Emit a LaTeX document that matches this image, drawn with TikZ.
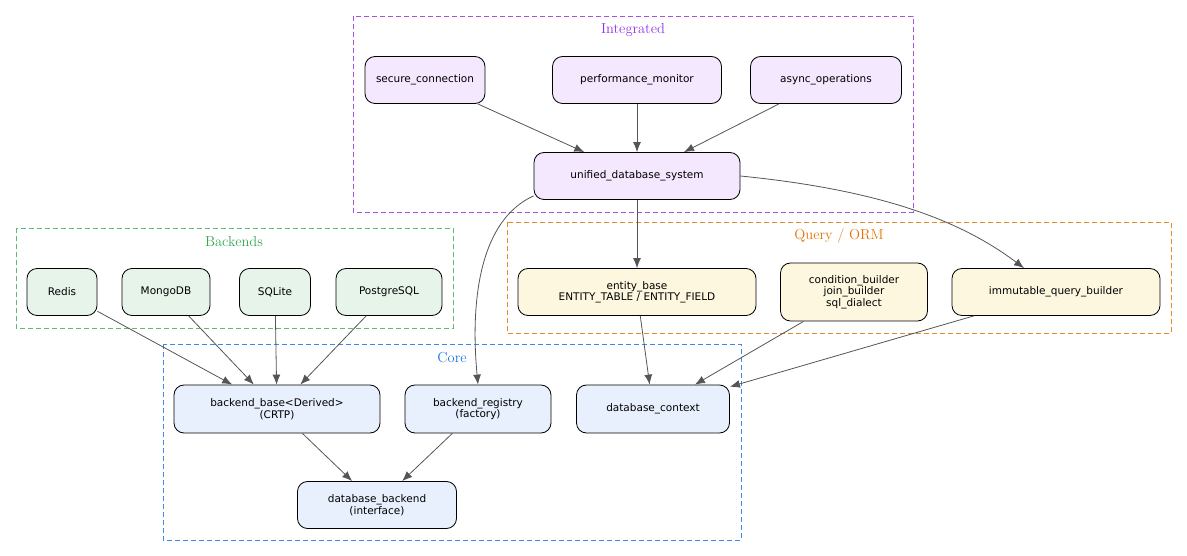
\documentclass[tikz,border=0pt]{standalone}
\usepackage{fontspec}
\newfontfamily\nodefont{DejaVu Sans}
\usetikzlibrary{arrows.meta,positioning}
\definecolor{purpfill}{HTML}{F3E8FD}
\definecolor{greenfill}{HTML}{E6F4EA}
\definecolor{yelfill}{HTML}{FEF7E0}
\definecolor{bluefill}{HTML}{E8F0FE}
\definecolor{purpline}{HTML}{9334E6}
\definecolor{greenline}{HTML}{34A853}
\definecolor{orangeline}{HTML}{E37400}
\definecolor{blueline}{HTML}{1A73E8}
\definecolor{edgegray}{HTML}{555555}
\tikzset{
  box/.style={draw=black, line width=0.8pt, rounded corners=10pt, minimum height=47pt, align=center,
    font=\nodefont\fontsize{10.5}{11.5}\selectfont, inner sep=2pt},
  cluster/.style={draw, line width=0.8pt, dash pattern=on 5pt off 3pt},
  ctitle/.style={font=\fontsize{14.5}{15}\selectfont},
  link/.style={draw=edgegray, line width=0.8pt, -{Latex[length=10pt,width=8pt]}},
}
\begin{document}
\begin{tikzpicture}[x=1pt,y=-1pt]
\useasboundingbox (0,0) rectangle (1187,556);

% clusters
\draw[cluster,purpline!85] (353,16) rectangle (913,212);
\node[ctitle,text=purpline] at (633,30) {Integrated};
\draw[cluster,greenline!80] (16,228) rectangle (453,328);
\node[ctitle,text=greenline] at (234,242) {Backends};
\draw[cluster,orangeline!85] (507,222) rectangle (1171,333);
\node[ctitle,text=orangeline] at (839,236) {Query / ORM};
\draw[cluster,blueline!85] (163,344) rectangle (741,540);
\node[ctitle,text=blueline] at (452,358) {Core};

% integrated
\node[box,fill=purpfill,minimum width=120pt] (secure) at (425,80) {secure\_connection};
\node[box,fill=purpfill,minimum width=169pt] (perf) at (637,80) {performance\_monitor};
\node[box,fill=purpfill,minimum width=151pt] (async) at (826,80) {async\_operations};
\node[box,fill=purpfill,minimum width=206pt] (unified) at (637,176) {unified\_database\_system};

% backends
\node[box,fill=greenfill,minimum width=70pt] (redis) at (62,292) {Redis};
\node[box,fill=greenfill,minimum width=88pt] (mongo) at (166,292) {MongoDB};
\node[box,fill=greenfill,minimum width=71pt] (sqlite) at (275,292) {SQLite};
\node[box,fill=greenfill,minimum width=106pt] (postgres) at (389,292) {PostgreSQL};

% query / orm
\node[box,fill=yelfill,minimum width=238pt] (entity) at (637,292) {entity\_base\\ENTITY\_TABLE / ENTITY\_FIELD};
\node[box,fill=yelfill,minimum width=147pt,minimum height=58pt] (cond) at (854,292) {condition\_builder\\join\_builder\\sql\_dialect};
\node[box,fill=yelfill,minimum width=208pt] (immut) at (1056,292) {immutable\_query\_builder};

% core
\node[box,fill=bluefill,minimum width=206pt,minimum height=48pt] (bbase) at (277,409) {backend\_base<Derived>\\(CRTP)};
\node[box,fill=bluefill,minimum width=146pt,minimum height=48pt] (registry) at (478,409) {backend\_registry\\(factory)};
\node[box,fill=bluefill,minimum width=153pt,minimum height=48pt] (context) at (653,409) {database\_context};
\node[box,fill=bluefill,minimum width=159pt] (dbackend) at (377,505) {database\_backend\\(interface)};

% edges
\draw[link] (secure) -- (unified);
\draw[link] (perf) -- (unified);
\draw[link] (async) -- (unified);
\draw[link] (unified) -- (entity);
\draw[link] (unified.east) .. controls (880,190) and (960,220) .. (immut.north west -| 1024,268);
\draw[link] (unified.south west) ++(0,-4) .. controls (480,220) and (470,300) .. (registry.north);
\draw[link] (redis) -- (bbase);
\draw[link] (mongo) -- (bbase);
\draw[link] (sqlite) -- (bbase);
\draw[link] (postgres) -- (bbase);
\draw[link] (entity) -- (context);
\draw[link] (cond) -- (context);
\draw[link] (immut) -- (context);
\draw[link] (bbase) -- (dbackend);
\draw[link] (registry) -- (dbackend);
\end{tikzpicture}
\end{document}
